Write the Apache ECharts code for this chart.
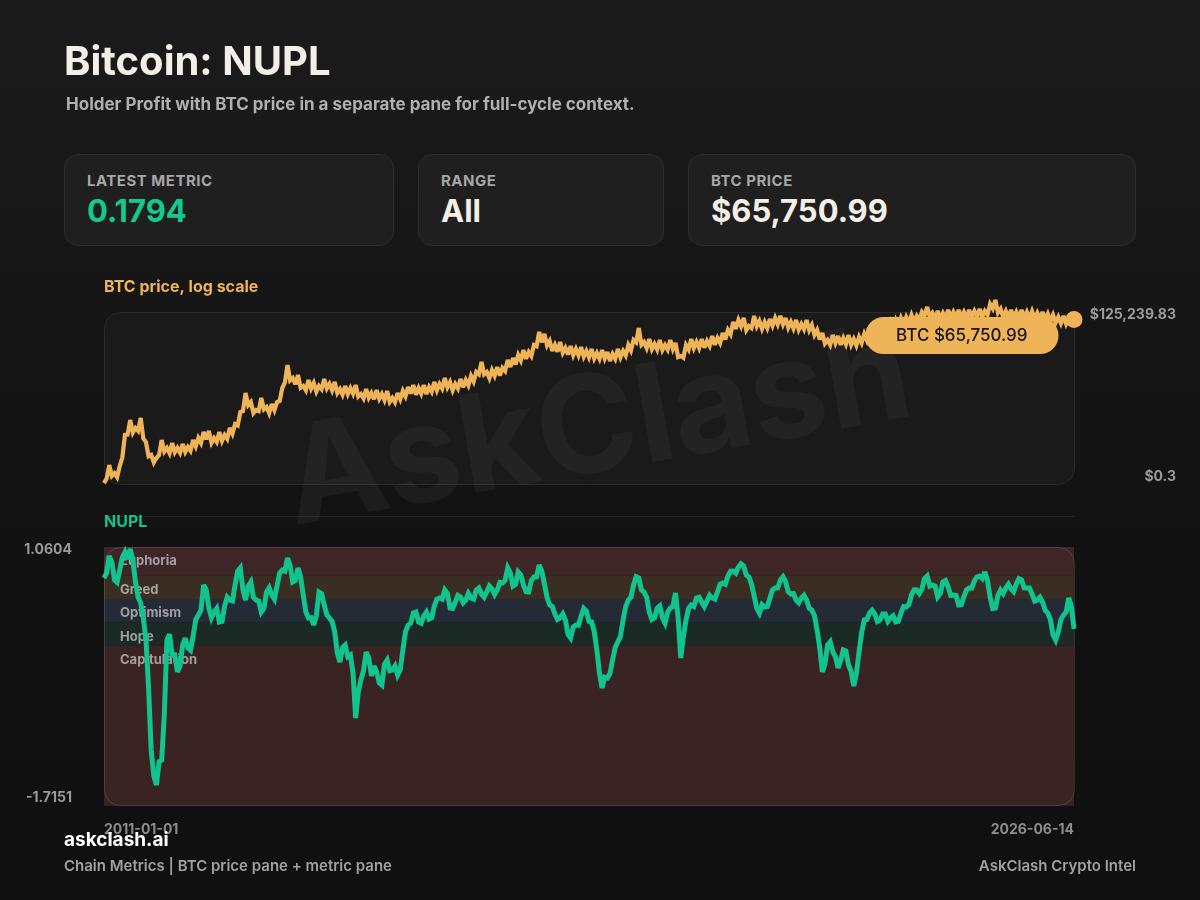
<!DOCTYPE html>
<html>
<head>
<meta charset="utf-8">
<script src="https://cdn.jsdelivr.net/npm/echarts@6/dist/echarts.min.js"></script>
<style>
html,body{margin:0;padding:0;width:1200px;height:900px;overflow:hidden;}
body{background:linear-gradient(180deg,#1b1b1b 0%,#151515 40%,#111111 70%,#101010 100%);font-family:Inter,Roboto,'Noto Sans',sans-serif;position:relative;}
#chart{position:absolute;left:0;top:0;width:1200px;height:900px;z-index:1;}
.t{position:absolute;white-space:nowrap;line-height:1;z-index:2;}
.card{position:absolute;top:154px;height:92px;box-sizing:border-box;border:1px solid #2d2d2d;border-radius:14px;background:#1f1f1f;z-index:2;}
.card .lab{position:absolute;left:22px;top:18px;font-size:15px;font-weight:700;color:#a6a6a6;line-height:1;letter-spacing:0.5px;}
.card .val{position:absolute;left:22px;top:40px;font-size:31px;font-weight:700;line-height:1;color:#f3efe6;}
</style>
</head>
<body>
<div id="chart"></div>
<div class="t" style="left:64px;top:41px;font-size:40px;font-weight:700;color:#f3efe6;">Bitcoin: NUPL</div>
<div class="t" style="left:66px;top:96px;font-size:17px;font-weight:700;color:#b0b0b0;">Holder Profit with BTC price in a separate pane for full-cycle context.</div>
<div class="card" style="left:64px;width:330px;"><div class="lab">LATEST METRIC</div><div class="val" id="vMetric" style="color:#14c98e;"></div></div>
<div class="card" style="left:418px;width:246px;"><div class="lab">RANGE</div><div class="val" id="vRange"></div></div>
<div class="card" style="left:688px;width:448px;"><div class="lab">BTC PRICE</div><div class="val" id="vPrice"></div></div>
<div class="t" style="left:64px;top:830px;font-size:19px;font-weight:700;color:#ffffff;">askclash.ai</div>
<div class="t" style="left:64px;top:858px;font-size:15px;font-weight:600;color:#a0a0a0;">Chain Metrics | BTC price pane + metric pane</div>
<div class="t" style="right:64px;top:858px;font-size:15px;font-weight:600;color:#a0a0a0;">AskClash Crypto Intel</div>
<script>
// ---------- data ----------
const rangeLabel = 'All';
const firstDateLabel = '2011-01-01';
const lastDateLabel = '2026-06-14';
const latestMetric = 0.1794;

const priceAxisMin = 0.3;
const priceAxisMax = 125239.83;
const nuplAxisMin = -1.7151;
const nuplAxisMax = 1.0604;

// BTC price (USD) on the 1st of each month
const priceStartOfMonth = [
  0.32,1.24,0.68,1.15,11.73,36.01,19.79,41.82,6.94,2.63,
  2.10,8.07,4.43,6.44,4.43,5.98,4.78,8.07,9.37,14.67,
  15.81,9.37,14.67,11.73,19.79,26.69,65.52,271.5,138.4,76.07,
  186.7,95.24,119.2,138.4,394.5,2204,833.5,1043,458.2,717.8,
  573.5,458.2,773.3,532.1,618.1,366.1,458.2,394.5,493.8,251.9,
  366.1,271.5,339.7,251.9,315.1,186.7,271.5,315.1,425.2,493.8,
  394.5,493.8,425.2,618.1,532.1,833.5,618.1,532.1,773.3,717.8,
  968.1,1306,2759,1306,1516,1898,1761,3204,3722,4658,
  6770,5830,9842,26031,22413,13273,9842,12316,7864,9133,
  7297,8476,6283,7297,5410,6770,5830,5019,7297,6283,
  9842,14304,35116,12316,15417,10607,14304,9842,14304,11428,
  4323,9842,15417,12316,15417,13273,19296,16614,24154,30233,
  55009,63894,74209,40784,86190,59285,55009,68858,74209,86190,
  74209,55009,63894,47366,63894,43951,30233,24154,14304,20797,
  19296,16614,20797,15417,17906,22413,26031,30233,37844,43951,
  55009,63894,74209,79975,92837,86190,116197,168943,107820,124800,
  107820,134970,116197,134970,116197,134970,125000,145456,125000,211423,
  285300,145456,124000,134970,116197,134970,116197,123000,107820,116197,
  100046,92837,79975,86190,74209,65750.99
];
// BTC price (USD) in the middle of each month (the daily swings)
const priceMidMonth = [
  0.45,0.55,0.5,2.2,12,14,16,9,2.4,1.5,
  2.6,3.4,3.0,3.2,3.1,3.3,3.6,5.0,6.5,8.5,
  6.5,7.0,7.5,8.8,13,24,70,110,60,70,
  80,60,75,150,600,700,520,400,330,380,
  300,360,380,330,270,240,250,260,210,180,
  190,170,175,160,140,135,170,210,260,240,
  260,250,300,330,380,420,330,380,420,480,
  640,1100,1100,820,980,1000,1400,1900,2300,3100,
  3500,4300,9000,12000,9500,6300,6000,5500,4800,4600,
  4500,4100,3900,3600,3500,3600,3000,3500,3900,4500,
  6600,12000,10000,7800,7200,7000,6800,7000,7300,4000,
  3800,7000,7800,7800,8000,9200,10000,11500,15000,22000,
  33000,40000,30000,35000,40000,33000,35000,42000,46000,46000,
  36000,34000,31000,32000,30000,21000,15000,11000,10000,11500,
  10000,10500,10000,9500,11500,14000,16500,20000,24000,29000,
  35000,41000,46000,52000,55000,62000,90000,80000,72000,70000,
  74000,76000,76000,78000,74000,80000,82000,80000,95000,150000,
  110000,80000,76000,76000,74000,76000,72000,70000,68000,64000,
  58000,52000,50000,48000,50000
];

// NUPL on the 1st of each month
const nuplStartOfMonth = [
  0.727,0.964,0.705,0.813,1.007,1.039,0.684,0.458,0.060,-1.123,
  -1.500,-1.231,0.060,-0.101,-0.284,0.006,-0.026,0.103,0.329,0.652,
  0.404,0.361,0.254,0.426,0.490,0.652,0.835,0.490,0.684,0.490,
  0.361,0.576,0.544,0.641,0.813,0.942,0.684,0.835,0.544,0.297,
  0.221,0.576,0.437,0.297,0.146,-0.177,0.006,-0.101,-0.779,-0.370,
  -0.069,-0.327,-0.284,-0.424,-0.155,-0.263,-0.317,-0.048,0.221,0.350,
  0.254,0.318,0.286,0.426,0.512,0.598,0.404,0.469,0.523,0.490,
  0.512,0.598,0.555,0.576,0.609,0.598,0.673,0.835,0.641,0.792,
  0.652,0.576,0.738,0.867,0.662,0.437,0.340,0.297,0.275,0.082,
  0.221,0.318,0.372,0.254,-0.048,-0.456,-0.349,-0.155,0.039,0.275,
  0.490,0.652,0.727,0.576,0.361,0.297,0.426,0.243,0.404,0.566,
  -0.134,0.275,0.437,0.512,0.469,0.480,0.512,0.576,0.673,0.748,
  0.802,0.845,0.856,0.738,0.533,0.350,0.415,0.512,0.619,0.705,
  0.684,0.555,0.490,0.512,0.490,0.383,0.168,-0.284,0.006,-0.069,
  -0.241,-0.048,-0.209,-0.435,-0.069,0.275,0.350,0.340,0.275,0.340,
  0.297,0.254,0.350,0.415,0.544,0.598,0.609,0.748,0.652,0.523,
  0.684,0.630,0.544,0.437,0.523,0.619,0.695,0.748,0.792,0.523,
  0.404,0.598,0.619,0.609,0.662,0.705,0.619,0.555,0.490,0.469,
  0.350,0.114,0.146,0.329,0.512,0.1794
];
// NUPL in the middle of each month
const nuplMidMonth = [
  0.78,0.90,0.68,0.95,0.93,0.92,0.52,0.30,-0.45,-1.40,
  -1.25,-0.75,0.12,-0.10,-0.22,0.08,-0.05,0.28,0.38,0.60,
  0.30,0.40,0.26,0.52,0.48,0.80,0.60,0.64,0.52,0.48,
  0.40,0.62,0.50,0.78,0.80,0.86,0.70,0.74,0.36,0.30,
  0.32,0.56,0.33,0.26,-0.08,-0.02,-0.12,-0.30,-0.50,-0.27,
  -0.13,-0.22,-0.40,-0.20,-0.27,-0.22,-0.26,0.15,0.24,0.36,
  0.24,0.36,0.30,0.50,0.50,0.56,0.40,0.54,0.46,0.56,
  0.50,0.62,0.52,0.64,0.55,0.68,0.70,0.78,0.66,0.76,
  0.58,0.70,0.74,0.80,0.52,0.42,0.28,0.34,0.12,0.20,
  0.22,0.40,0.26,0.15,-0.30,-0.34,-0.30,-0.02,0.10,0.42,
  0.52,0.74,0.60,0.52,0.28,0.40,0.30,0.36,0.42,0.30,
  0.10,0.40,0.42,0.52,0.42,0.54,0.50,0.66,0.66,0.80,
  0.78,0.88,0.76,0.66,0.40,0.44,0.42,0.60,0.62,0.74,
  0.58,0.56,0.46,0.54,0.40,0.32,-0.02,-0.20,0.04,-0.12,
  -0.16,-0.06,-0.28,-0.30,0.14,0.28,0.38,0.26,0.34,0.26,
  0.32,0.26,0.42,0.44,0.60,0.56,0.72,0.64,0.64,0.56,
  0.70,0.54,0.54,0.44,0.60,0.62,0.74,0.72,0.70,0.40,
  0.54,0.56,0.66,0.58,0.72,0.62,0.62,0.48,0.52,0.38,
  0.28,0.06,0.28,0.36,0.42
];

// NUPL zones
const zoneNames = ['Euphoria','Greed','Optimism','Hope','Capitulation'];
const zoneUpper = [1.0604, 0.75, 0.5, 0.25, 0];
const zoneLower = [0.75, 0.5, 0.25, 0, -1.7151];

// ---------- build the semi-monthly table ----------
const dates = [], priceValues = [], nuplValues = [];
for (let k = 0; k < priceStartOfMonth.length; k++) {
  if (k === priceStartOfMonth.length - 1) { dates.push(lastDateLabel); }
  else {
    const y = 2011 + Math.floor(k / 12), m = String(k % 12 + 1).padStart(2, '0');
    dates.push(k === 0 ? firstDateLabel : y + '-' + m + '-01');
  }
  priceValues.push(priceStartOfMonth[k]);
  nuplValues.push(nuplStartOfMonth[k]);
  if (k < priceMidMonth.length) {
    const y = 2011 + Math.floor(k / 12), m = String(k % 12 + 1).padStart(2, '0');
    dates.push(y + '-' + m + '-15');
    priceValues.push(priceMidMonth[k]);
    nuplValues.push(nuplMidMonth[k]);
  }
}

// ---------- styles ----------
const zoneColors = ['#3e2627','#3a2e22','#252a37','#1c2a25','#3a2323'];
const ORANGE = '#f0b458';
const GREEN = '#11c38c';
const FONT = 'Inter, Roboto, "Noto Sans", sans-serif';
const fmtUSD = v => '$' + v.toLocaleString('en-US', {minimumFractionDigits: 0, maximumFractionDigits: 2});
const near = (a, b) => Math.abs(a - b) <= Math.abs(b) * 1e-6 + 1e-9;
const AXIS_TXT = {color: '#9a9a9a', fontSize: 14, fontWeight: 'bold', fontFamily: FONT};

const last = priceValues.length - 1;
document.getElementById('vMetric').textContent = latestMetric.toFixed(4);
document.getElementById('vRange').textContent = rangeLabel;
document.getElementById('vPrice').textContent = '$' + priceValues[last].toLocaleString('en-US', {minimumFractionDigits: 2, maximumFractionDigits: 2});

const chart = echarts.init(document.getElementById('chart'));
chart.setOption({
  animation: false,
  backgroundColor: 'transparent',
  textStyle: {fontFamily: FONT},
  title: [
    {text: 'BTC price, log scale', left: 104, top: 279, padding: 0,
     textStyle: {color: ORANGE, fontSize: 16, fontWeight: 'bold', fontFamily: FONT}},
    {text: 'NUPL', left: 104, top: 514, padding: 0,
     textStyle: {color: GREEN, fontSize: 16, fontWeight: 'bold', fontFamily: FONT}}
  ],
  graphic: [
    {type: 'rect', z: 0, z2: 0, shape: {x: 104.5, y: 312.5, width: 970, height: 172, r: 16},
     style: {fill: '#1a1a1a', stroke: '#2b2b2b', lineWidth: 1}},
    {type: 'line', z: 0, shape: {x1: 104, y1: 516.5, x2: 1074, y2: 516.5},
     style: {stroke: '#262626', lineWidth: 1}},
    {type: 'text', z: 0, z2: 10, x: 598, y: 430, rotation: 10 * Math.PI / 180,
     style: {text: 'AskClash', fill: 'rgba(255,255,255,0.045)', font: 'bold 136px ' + FONT,
             textAlign: 'center', textVerticalAlign: 'middle'}},
    {type: 'rect', z: 3, shape: {x: 104.5, y: 547.5, width: 970, height: 258, r: 16},
     style: {fill: 'none', stroke: 'rgba(255,255,255,0.13)', lineWidth: 1}}
  ],
  grid: [
    {left: 104, right: 126, top: 311, height: 173},
    {left: 104, right: 126, top: 547, height: 258}
  ],
  xAxis: [
    {type: 'category', gridIndex: 0, data: dates, boundaryGap: false, show: false},
    {type: 'category', gridIndex: 1, data: dates, boundaryGap: false,
     axisLine: {show: false}, axisTick: {show: false}, splitLine: {show: false},
     axisLabel: Object.assign({interval: (i) => i === 0 || i === dates.length - 1, margin: 18,
       alignMinLabel: 'left', alignMaxLabel: 'right'}, AXIS_TXT, {color: '#8c8c8c'})}
  ],
  yAxis: [
    {type: 'log', gridIndex: 0, position: 'right', min: priceAxisMin, max: priceAxisMax,
     axisLine: {show: false}, axisTick: {show: false}, splitLine: {show: false},
     axisLabel: Object.assign({show: true, showMinLabel: true, showMaxLabel: true, margin: 102, align: 'right',
       formatter: v => near(v, priceAxisMax) ? '{t|' + fmtUSD(priceAxisMax) + '}'
                     : near(v, priceAxisMin) ? '{b|' + fmtUSD(priceAxisMin) + '}' : '',
       rich: {
         t: Object.assign({padding: [8, 0, 0, 0]}, AXIS_TXT),
         b: Object.assign({padding: [0, 0, 14, 0]}, AXIS_TXT)
       }}, AXIS_TXT)},
    {type: 'value', gridIndex: 1, min: nuplAxisMin, max: nuplAxisMax,
     interval: (nuplAxisMax - nuplAxisMin) / 4,
     axisLine: {show: false}, axisTick: {show: false},
     splitLine: {show: true, lineStyle: {color: 'rgba(255,255,255,0.09)', width: 1}},
     axisLabel: Object.assign({show: true, showMinLabel: true, showMaxLabel: true, margin: 32,
       formatter: v => near(v, nuplAxisMax) ? '{t|' + nuplAxisMax.toFixed(4) + '}'
                     : near(v, nuplAxisMin) ? '{b|' + nuplAxisMin.toFixed(4) + '}' : '',
       rich: {
         t: Object.assign({padding: [6, 0, 0, 0]}, AXIS_TXT),
         b: Object.assign({padding: [0, 0, 14, 0]}, AXIS_TXT)
       }}, AXIS_TXT)}
  ],
  series: [
    {type: 'line', name: 'BTC', xAxisIndex: 0, yAxisIndex: 0, data: priceValues,
     showSymbol: false, symbol: 'none', clip: false, z: 3,
     lineStyle: {color: ORANGE, width: 4.2, join: 'miter', miterLimit: 3}},
    {type: 'scatter', xAxisIndex: 0, yAxisIndex: 0, z: 5, clip: false,
     data: [[dates[last], priceValues[last]]],
     symbolSize: 17, itemStyle: {color: ORANGE, opacity: 1},
     label: {show: true, position: 'left', distance: 7, offset: [0, 16],
       formatter: () => 'BTC $' + priceValues[last].toLocaleString('en-US', {minimumFractionDigits: 2, maximumFractionDigits: 2}),
       backgroundColor: ORANGE, borderRadius: 21, padding: [10, 31, 10, 31],
       color: '#161616', fontSize: 17, fontWeight: 500, fontFamily: FONT}},
    {type: 'line', name: 'NUPL', xAxisIndex: 1, yAxisIndex: 1, data: nuplValues,
     showSymbol: false, symbol: 'none', z: 2,
     lineStyle: {color: GREEN, width: 5, join: 'miter', miterLimit: 3}},
    {type: 'line', xAxisIndex: 1, yAxisIndex: 1, data: [], silent: true, z: 1,
     markArea: {silent: true, z: 1,
       itemStyle: {opacity: 1, borderWidth: 0},
       label: {show: true, position: [16, 8], color: 'rgba(205,205,205,0.72)',
         fontSize: 13, fontWeight: 'bold', fontFamily: FONT},
       data: zoneNames.map((n, i) => [
         {name: n, yAxis: zoneUpper[i], itemStyle: {color: zoneColors[i], opacity: 1}},
         {yAxis: zoneLower[i]}
       ])}}
  ]
});
</script>
</body>
</html>
